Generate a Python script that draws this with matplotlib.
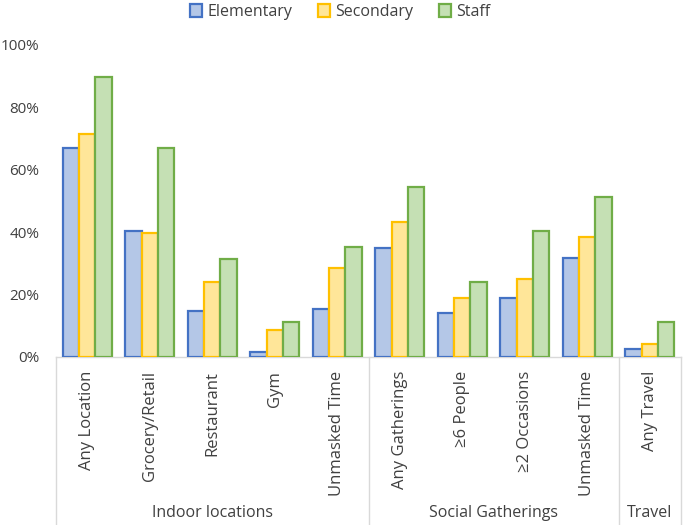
"""
Grouped bar chart: share of respondents by activity, split by school group.
Recreated with a two-level (Excel-style) category axis.
"""

import numpy as np
import matplotlib as mpl
mpl.use('Agg')
import matplotlib.pyplot as plt
from matplotlib.patches import Patch
from matplotlib.ticker import PercentFormatter

# --- Data ---
CATEGORIES = ['Any Location', 'Grocery/Retail', 'Restaurant', 'Gym', 'Unmasked Time',
              'Any Gatherings', '\u22656 People', '\u22652 Occasions', 'Unmasked Time',
              'Any Travel']
GROUPS      = ['Indoor locations', 'Social Gatherings', 'Travel']
GROUP_SIZES = [5, 4, 1]

SERIES     = ['Elementary', 'Secondary', 'Staff']
ELEMENTARY = [67.0, 40.3, 14.6, 1.6, 15.4, 35.0, 14.0, 19.0, 31.6, 2.6]
SECONDARY  = [71.6, 39.8, 24.1, 8.7, 28.6, 43.4, 18.8, 24.9, 38.6, 4.3]
STAFF      = [89.9, 67.1, 31.5, 11.2, 35.3, 54.4, 23.9, 40.4, 51.3, 11.2]

# --- Style ---
FILLS = ['#B4C7E7', '#FFE699', '#C5E0B4']
EDGES = ['#4472C4', '#FFC000', '#70AD47']
TEXT  = '#404040'
AXIS  = '#D9D9D9'
FONT  = 'Open Sans'

mpl.rcParams['font.family'] = [FONT, 'DejaVu Sans']

fig = plt.figure(figsize=(6.85, 5.25), dpi=100)
ax = fig.add_axes([56 / 685, 168 / 525, 625 / 685, 312 / 525])

n_cat = len(CATEGORIES)
x = np.arange(n_cat)
bw = 0.26
values = [ELEMENTARY, SECONDARY, STAFF]
for k, vals in enumerate(values):
    ax.bar(x + (k - 1) * bw, np.array(vals) / 100.0, width=bw,
           color=FILLS[k], edgecolor=EDGES[k], lw=1.6, zorder=3)

ax.set_xlim(-0.5, n_cat - 0.5)
ax.set_ylim(0, 1.0)
ax.set_yticks(np.arange(0, 1.01, 0.2))
ax.yaxis.set_major_formatter(PercentFormatter(1.0, decimals=0))
ax.tick_params(axis='y', length=0, labelsize=11, colors=TEXT, pad=12)
ax.set_xticks([])
for side in ['top', 'right', 'left']:
    ax.spines[side].set_visible(False)
ax.spines['bottom'].set_color(AXIS)
ax.spines['bottom'].set_linewidth(1.0)

# --- Two-level category axis ---
trans = mpl.transforms.blended_transform_factory(ax.transData, ax.transAxes)
for i, lab in enumerate(CATEGORIES):
    ax.text(i, -0.045, lab, transform=trans, rotation=90, ha='center', va='top',
            fontsize=12, color=TEXT, clip_on=False)

bottom = -168 / 312
edges = np.concatenate([[0], np.cumsum(GROUP_SIZES)]) - 0.5
for e in edges:
    ax.plot([e, e], [0, bottom], transform=trans, color=AXIS, lw=1.0, clip_on=False)
for g, name in enumerate(GROUPS):
    mid = (edges[g] + edges[g + 1]) / 2
    ax.text(mid, -0.5, name, transform=trans, ha='center', va='center',
            fontsize=11.5, color=TEXT, clip_on=False)

# --- Legend ---
handles = [Patch(facecolor=FILLS[k], edgecolor=EDGES[k], lw=1.6) for k in range(3)]
fig.legend(handles, SERIES, loc='center', bbox_to_anchor=(340 / 685, 1 - 12 / 525),
           ncol=3, frameon=False, fontsize=11.5, handlelength=0.8, handleheight=0.8,
           handletextpad=0.3, columnspacing=1.6, labelcolor=TEXT)

fig.savefig('out.png', dpi=100)
